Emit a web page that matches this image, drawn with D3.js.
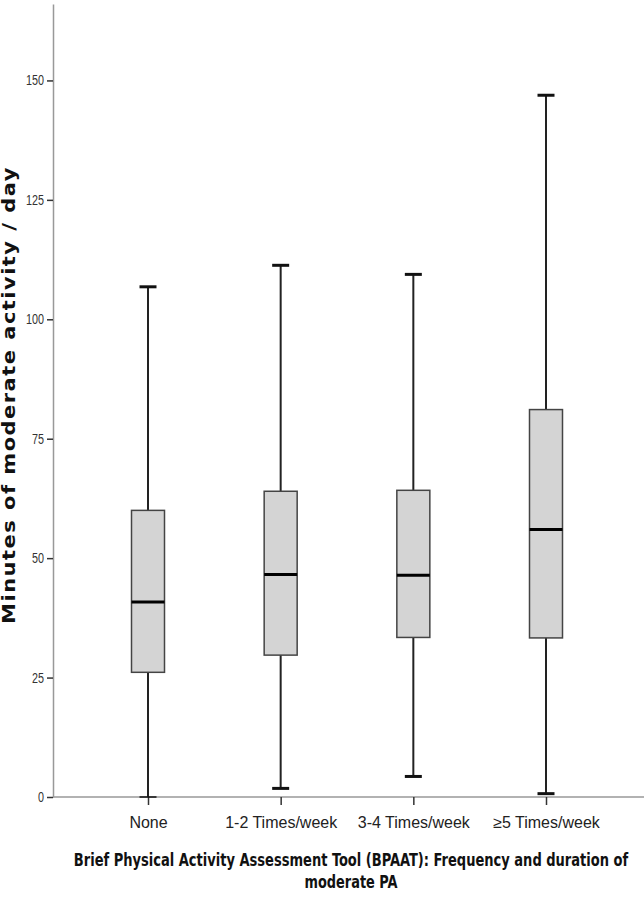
<!DOCTYPE html>
<html lang="en">
<head>
<meta charset="UTF-8">
<title>BPAAT moderate PA boxplot</title>
<script src="https://d3js.org/d3.v7.min.js"></script>
<style>
body { margin: 0; background: #fff; }
svg { display: block; }
.axis text { font-family: "Liberation Sans", Arial, sans-serif; font-size: 14px; fill: #333; }
.cat text { font-family: "Liberation Sans", Arial, sans-serif; font-size: 16px; fill: #222; }
</style>
</head>
<body>
<div id="chart"></div>
<script>
// data
var categories = ["None", "1-2 Times/week", "3-4 Times/week", "\u22655 Times/week"];
var whiskerLow  = [0,    1.8,  4.3,  0.7];
var q1          = [26.1, 29.7, 33.4, 33.3];
var medians     = [40.8, 46.6, 46.4, 56.0];
var q3          = [60,   64,   64.2, 81.1];
var whiskerHigh = [106.8, 111.3, 109.4, 146.9];
var yTicks = [0, 25, 50, 75, 100, 125, 150];

var W = 644, H = 907;
var plotLeft = 53, plotRight = 644, plotBottom = 797, plotTop = 4;

var svg = d3.select("#chart").append("svg")
  .attr("width", W)
  .attr("height", H);

var y = d3.scaleLinear()
  .domain([0, 166])
  .range([plotBottom, plotTop]);

var x = d3.scalePoint()
  .domain(categories)
  .range([148, 546]);

// y axis
var yAxis = svg.append("g")
  .attr("class", "axis")
  .attr("transform", "translate(" + plotLeft + ",0)")
  .call(d3.axisLeft(y).tickValues(yTicks).tickSize(6).tickSizeOuter(0).tickPadding(3));
yAxis.select(".domain").attr("stroke", "#999").attr("stroke-width", 1.5);
yAxis.selectAll(".tick line").attr("stroke", "#333").attr("stroke-width", 1.5);
// the reference tick labels are narrow
yAxis.selectAll(".tick text")
  .attr("textLength", function(d) { return String(d).length * 6; })
  .attr("lengthAdjust", "spacingAndGlyphs");

// x axis line spans the whole plot width
svg.append("line")
  .attr("x1", plotLeft).attr("x2", plotRight)
  .attr("y1", plotBottom).attr("y2", plotBottom)
  .attr("stroke", "#999").attr("stroke-width", 1.5);

var xAxis = svg.append("g")
  .attr("class", "cat")
  .attr("transform", "translate(0," + plotBottom + ")")
  .call(d3.axisBottom(x).tickSize(8).tickPadding(12));
xAxis.select(".domain").remove();
xAxis.selectAll(".tick line").attr("stroke", "#333").attr("stroke-width", 1.5);

// boxes
var boxW = 33, capW = 17;
var rows = categories.map(function(c, i) {
  return {cat: c, lo: whiskerLow[i], q1: q1[i], med: medians[i], q3: q3[i], hi: whiskerHigh[i]};
});

var g = svg.append("g")
  .selectAll("g")
  .data(rows)
  .enter()
  .append("g")
    .attr("transform", function(d) { return "translate(" + x(d.cat) + ",0)"; });

g.append("line")
  .attr("x1", 0).attr("x2", 0)
  .attr("y1", function(d) { return y(d.lo); })
  .attr("y2", function(d) { return y(d.hi); })
  .attr("stroke", "#222").attr("stroke-width", 2);

g.append("rect")
  .attr("x", -boxW / 2)
  .attr("width", boxW)
  .attr("y", function(d) { return y(d.q3); })
  .attr("height", function(d) { return y(d.q1) - y(d.q3); })
  .attr("fill", "#d4d4d4")
  .attr("stroke", "#444")
  .attr("stroke-width", 1.5);

g.append("line")
  .attr("x1", -boxW / 2).attr("x2", boxW / 2)
  .attr("y1", function(d) { return y(d.med); })
  .attr("y2", function(d) { return y(d.med); })
  .attr("stroke", "#000").attr("stroke-width", 3);

g.append("line")
  .attr("x1", -capW / 2).attr("x2", capW / 2)
  .attr("y1", function(d) { return y(d.hi); })
  .attr("y2", function(d) { return y(d.hi); })
  .attr("stroke", "#111").attr("stroke-width", 3);

g.append("line")
  .attr("x1", -capW / 2).attr("x2", capW / 2)
  .attr("y1", function(d) { return y(d.lo); })
  .attr("y2", function(d) { return y(d.lo); })
  .attr("stroke", "#111")
  .attr("stroke-width", function(d) { return d.lo < 0.5 ? 1.5 : 3; });

// axis titles: stretch/squeeze the natural text to the reference width
var yTitle = svg.append("text")
  .attr("text-anchor", "middle")
  .style("font-family", "'DejaVu Sans', Verdana, sans-serif")
  .style("font-weight", "bold")
  .style("font-size", "17px")
  .style("letter-spacing", "1.2px")
  .style("fill", "#111")
  .text("Minutes of moderate activity / day");
var kY = 458 / yTitle.node().getComputedTextLength();
yTitle.attr("transform", "translate(15,395) rotate(-90) scale(" + kY + ",1)");

var titleLines = ["Brief Physical Activity Assessment Tool (BPAAT): Frequency and duration of", "moderate PA"];
var titleWidths = [555, 93];
svg.selectAll(".xtitle")
  .data(titleLines)
  .enter()
  .append("text")
    .attr("class", "xtitle")
    .attr("text-anchor", "middle")
    .style("font-family", "'DejaVu Sans Condensed', 'Liberation Sans', sans-serif")
    .style("font-weight", "bold")
    .style("font-size", "18px")
    .style("fill", "#111")
    .text(function(d) { return d; })
    .attr("transform", function(d, i) {
      var k = titleWidths[i] / this.getComputedTextLength();
      return "translate(351," + (866 + i * 22) + ") scale(" + k + ",1)";
    });
</script>
</body>
</html>
